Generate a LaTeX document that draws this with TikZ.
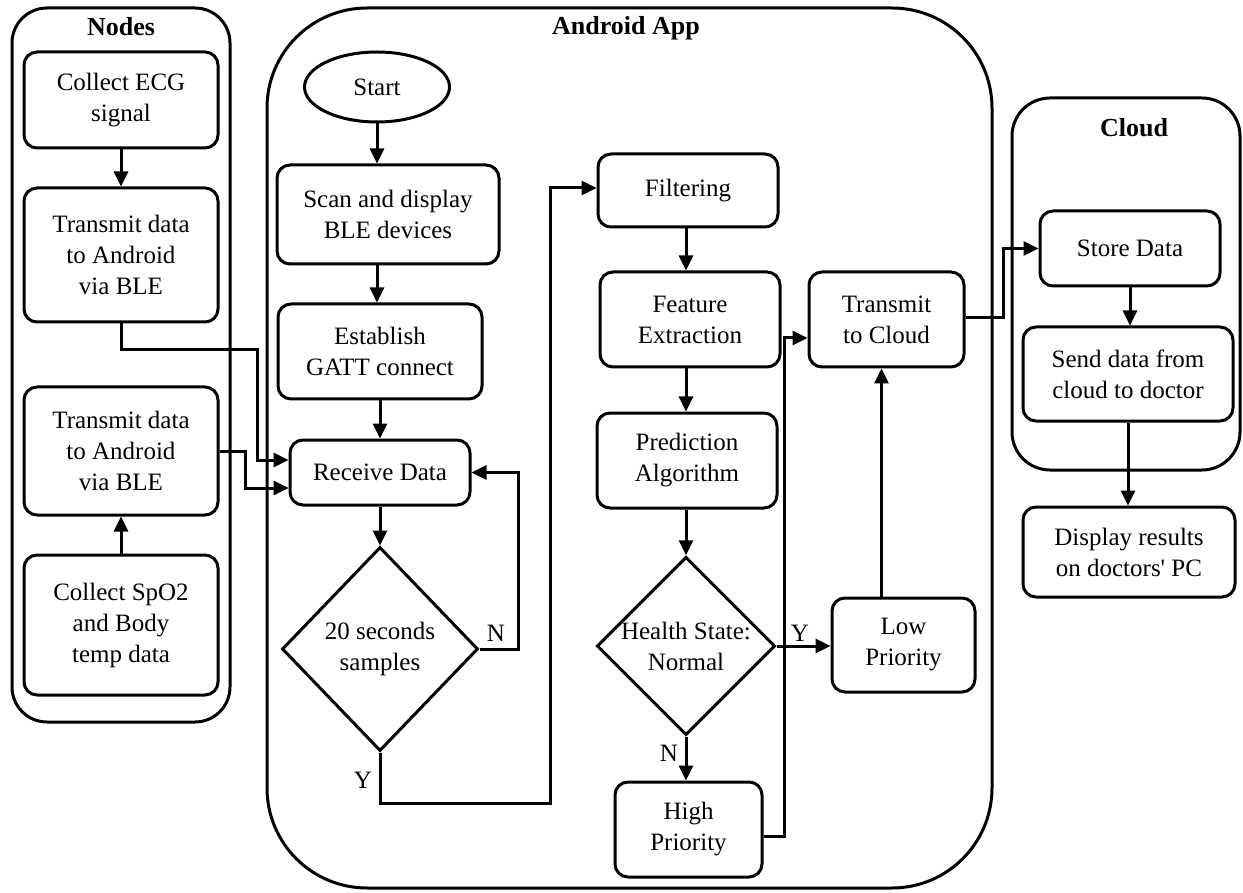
\documentclass[tikz,border=0pt]{standalone}
\usepackage{fontspec}
\setmainfont{Liberation Serif}
\usetikzlibrary{shapes.geometric,arrows.meta}

\begin{document}
\begin{tikzpicture}[x=1pt,y=-1pt,
  txt/.style={font=\fontsize{25}{31}\selectfont},
  ttl/.style={font=\bfseries\fontsize{26}{31}\selectfont, inner sep=0pt},
  sz/.style 2 args={minimum width=#1, minimum height=#2},
  box/.style={draw, line width=3pt, rounded corners=13pt, align=center, inner sep=0pt, txt},
  grp/.style={draw, line width=3pt, inner sep=0pt},
  dia/.style={draw, diamond, aspect=1, line width=3pt, align=center, inner sep=0pt, txt},
  oval/.style={draw, ellipse, line width=3pt, inner sep=0pt, txt},
  arr/.style={line width=3pt, -{Triangle[length=15pt,width=14pt]}},
  lbl/.style={txt, inner sep=0pt}
]
\fill[white] (0,0) rectangle (1243,893);
\useasboundingbox (0,0) rectangle (1243,893);

% group frames
\node[grp, rounded corners=35pt, sz={218pt}{714pt}] (gnodes) at (121,365) {};
\node[grp, rounded corners=100pt, sz={725pt}{880pt}] (gapp) at (629.5,448) {};
\node[grp, rounded corners=38pt, sz={228pt}{372pt}] (gcloud) at (1126,284) {};
\node[ttl] (tnodes) at (121,27) {Nodes};
\node[ttl] (tapp) at (626,28) {Android App};
\node[ttl] (tcloud) at (1134,128) {Cloud};

% sensor nodes
\node[box, sz={194pt}{96pt}] (ecg) at (121,100) {Collect ECG\\signal};
\node[box, sz={194pt}{134pt}] (tx1) at (121,255) {Transmit data\\to Android\\via BLE};
\node[box, sz={194pt}{128pt}] (tx2) at (121,451) {Transmit data\\to Android\\via BLE};
\node[box, sz={194pt}{140pt}] (spo2) at (121,625) {Collect SpO2\\and Body\\temp data};

% android app
\node[oval, sz={145pt}{70pt}] (start) at (377,87) {Start};
\node[box, sz={222pt}{99pt}] (scan) at (388,214.5) {Scan and display\\BLE devices};
\node[box, sz={204pt}{95pt}] (est) at (380,351.5) {Establish\\GATT connect};
\node[box, sz={180pt}{65pt}] (recv) at (380,472.5) {Receive Data};
\node[dia, sz={196pt}{204pt}] (d1) at (380,649) {20 seconds\\samples};

\node[box, sz={180pt}{73pt}] (filt) at (688,190.5) {Filtering};
\node[box, sz={180pt}{95pt}] (feat) at (690,319.5) {Feature\\Extraction};
\node[box, sz={180pt}{95pt}] (pred) at (687,460.5) {Prediction\\Algorithm};
\node[dia, sz={176pt}{178pt}] (d2) at (686,646) {Health State:\\Normal};
\node[box, sz={147pt}{95pt}] (high) at (688.5,829.5) {High\\Priority};
\node[box, sz={143pt}{94pt}] (low) at (903.5,645) {Low\\Priority};
\node[box, sz={155pt}{95pt}] (txc) at (886.5,319.5) {Transmit\\to Cloud};

% cloud
\node[box, sz={180pt}{75pt}] (store) at (1130,248.5) {Store Data};
\node[box, sz={210pt}{94pt}] (send) at (1128,374) {Send data from\\cloud to doctor};
\node[box, sz={212pt}{90pt}] (disp) at (1129,552) {Display results\\on doctors\textquotesingle\ PC};

% bend points
\coordinate (c3) at (257,350);
\coordinate (c4) at (245,488);
\coordinate (c6) at (518,649);
\coordinate (c7) at (550,803);
\coordinate (c10) at (784,836);
\coordinate (c12) at (1003,300);

% connectors
\draw[arr] (ecg.south) -- (tx1.north);
\draw[arr] (spo2.north) -- (tx2.south);
\draw[arr] (tx1.south) |- (c3) |- ([yshift=12.5pt]recv.west);
\draw[arr] (tx2.east) -| (c4) -- (c4 -| recv.west);

\draw[arr] (start.south) -- (start.south |- scan.north);
\draw[arr] (scan.south -| start.south) -- (start.south |- est.north);
\draw[arr] (est.south) -- (recv.north);
\draw[arr] (recv.south) -- (d1.north);
\draw[arr] (d1.east) -- (c6) |- (recv.east);
\node[lbl] (ln1) at (496,633) {N};
\draw[arr] (d1.south) |- (c7) |- ([yshift=2.5pt]filt.west);
\node[lbl] (ly1) at (363,780) {Y};

\draw[arr] (filt.south -| d2.north) -- (d2.north |- feat.north);
\draw[arr] (feat.south -| d2.north) -- (d2.north |- pred.north);
\draw[arr] (pred.south -| d2.north) -- (d2.north);
\draw[arr] (d2.south) -- (d2.south |- high.north);
\node[lbl] (ln2) at (669,753) {N};
\draw[arr] (d2.east) -- (d2.east -| low.west);
\node[lbl] (ly2) at (800,633) {Y};
\draw[arr] ([yshift=-6.5pt]high.east) -- (c10) |- ([yshift=-18.5pt]txc.west);
\draw[arr] ([xshift=-5pt]txc.south |- low.north) -- ([xshift=-5pt]txc.south);
\draw[arr] ([yshift=1.5pt]txc.east) -| (c12) |- (store.west);

\draw[arr] (store.south) -- (store.south |- send.north);
\draw[arr] (send.south) -- (send.south |- disp.north);
\end{tikzpicture}
\end{document}
